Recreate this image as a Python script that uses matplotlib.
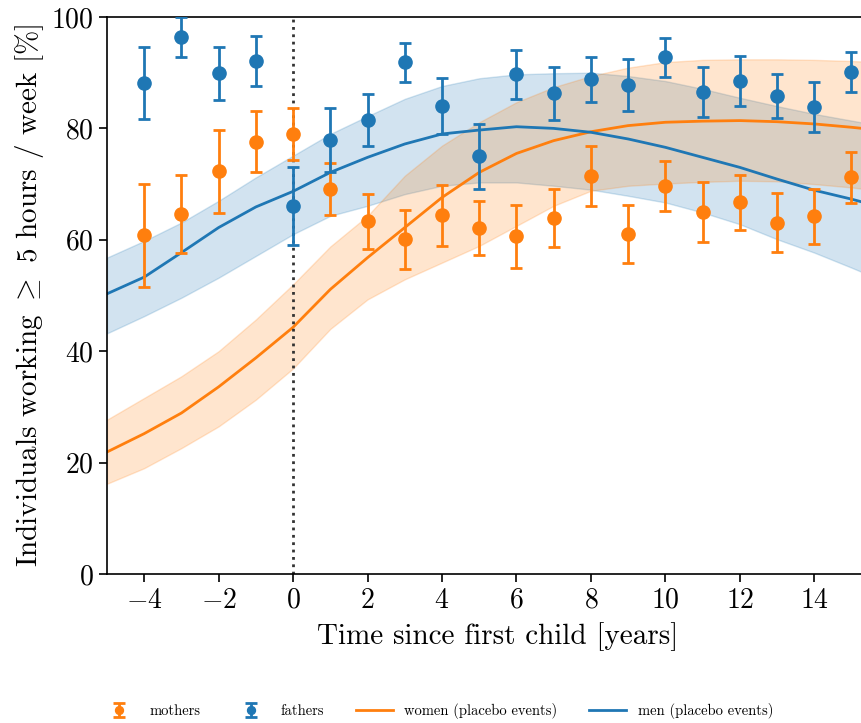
import matplotlib
matplotlib.use('Agg')
import matplotlib.pyplot as plt
import numpy as np

plt.rcParams['font.family'] = 'serif'
plt.rcParams['font.serif'] = ['cmr10']
plt.rcParams['mathtext.fontset'] = 'cm'
plt.rcParams['axes.formatter.use_mathtext'] = True

# event-study points (years relative to first child)
years = [-4, -3, -2, -1, 0, 1, 2, 3, 4, 5, 6, 7, 8, 9, 10, 11, 12, 13, 14, 15]
mothers = [60.8, 64.6, 72.3, 77.6, 79.0, 69.1, 63.3, 60.1, 64.4, 62.1,
           60.6, 63.9, 71.5, 61.0, 69.7, 65.0, 66.7, 63.1, 64.2, 71.2]
mothers_err = [9.2, 7.0, 7.5, 5.5, 4.7, 4.7, 5.0, 5.3, 5.5, 4.9,
               5.6, 5.2, 5.4, 5.2, 4.5, 5.4, 4.9, 5.3, 5.0, 4.6]
fathers = [88.1, 96.4, 89.9, 92.1, 66.0, 77.9, 81.5, 91.9, 84.0, 75.0,
           89.7, 86.3, 88.8, 87.8, 92.8, 86.5, 88.5, 85.8, 83.9, 90.2]
fathers_err = [6.5, 3.6, 4.8, 4.5, 7.0, 5.7, 4.7, 3.5, 5.0, 5.8,
               4.4, 4.8, 4.0, 4.7, 3.5, 4.5, 4.5, 4.0, 4.5, 3.6]

# placebo-event fits with bands
fit_x = [-5, -4, -3, -2, -1, 0, 1, 2, 3, 4, 5, 6, 7, 8, 9, 10, 11, 12, 13, 14, 15, 16]
women = [21.9, 25.2, 28.9, 33.6, 38.8, 44.3, 51.1, 56.8, 62.2, 67.6, 72.1,
         75.5, 77.8, 79.4, 80.5, 81.1, 81.3, 81.4, 81.2, 80.8, 80.2, 79.5]
women_hi = [27.7, 31.6, 35.5, 40.0, 45.7, 52.0, 58.8, 64.3, 71.5, 76.9, 81.1,
            84.7, 87.4, 89.4, 90.9, 91.9, 92.3, 92.4, 92.4, 92.3, 92.1, 91.8]
women_lo = [16.2, 19.0, 22.6, 26.5, 31.3, 36.9, 44.0, 49.3, 52.9, 55.9, 58.9,
            62.5, 66.1, 68.8, 69.7, 70.1, 70.4, 70.6, 70.5, 70.0, 69.4, 68.6]
men = [50.3, 53.3, 57.7, 62.2, 65.9, 68.7, 72.1, 74.8, 77.2, 79.0, 79.7,
       80.3, 80.0, 79.3, 78.1, 76.6, 74.8, 73.0, 70.9, 68.9, 67.3, 65.5]
men_hi = [56.8, 59.8, 63.1, 67.0, 71.2, 75.1, 79.0, 82.2, 85.3, 87.6, 89.0,
          89.7, 89.9, 90.0, 89.4, 88.5, 87.1, 85.5, 84.0, 82.6, 81.4, 80.2]
men_lo = [43.2, 46.3, 49.6, 53.2, 57.1, 61.0, 64.3, 66.1, 68.2, 69.7, 70.3,
          70.3, 69.7, 69.0, 67.9, 66.7, 64.9, 62.8, 60.1, 57.7, 55.0, 52.2]

orange = '#ff7f0e'
blue = '#1f77b4'

fig = plt.figure(figsize=(8.62, 7.23), dpi=100)
ax = fig.add_axes([0.1241, 0.2061, 0.9069, 0.7704])

ax.fill_between(fit_x, men_lo, men_hi, color=blue, alpha=0.2)
ax.fill_between(fit_x, women_lo, women_hi, color=orange, alpha=0.2)
ax.plot(fit_x, women, color=orange, lw=2, label='women (placebo events)')
ax.plot(fit_x, men, color=blue, lw=2, label='men (placebo events)')

ax.axvline(0, color='#333333', ls=':', lw=2, zorder=2.5)

ax.errorbar(years, mothers, yerr=mothers_err, fmt='o', color=orange, ms=9.5,
            elinewidth=2, capsize=4, capthick=2, label='mothers', zorder=3)
ax.errorbar(years, fathers, yerr=fathers_err, fmt='o', color=blue, ms=9.5,
            elinewidth=2, capsize=4, capthick=2, label='fathers', zorder=3)

ax.set_xlim(-5, 16)
ax.set_ylim(0, 100)
ax.set_xticks([-4, -2, 0, 2, 4, 6, 8, 10, 12, 14])
ax.set_yticks([0, 20, 40, 60, 80, 100])
ax.tick_params(labelsize=20, width=1.2, length=6)
for s in ax.spines.values():
    s.set_linewidth(1.2)
ax.set_xlabel('Time since first child [years]', fontsize=21, labelpad=6)
ax.set_ylabel(r'Individuals working $\geq$ 5 hours / week [%]', fontsize=21)

h, l = ax.get_legend_handles_labels()
order = [l.index(n) for n in ['mothers', 'fathers', 'women (placebo events)', 'men (placebo events)']]
fig.legend([h[i] for i in order], [l[i] for i in order], loc='lower center',
           bbox_to_anchor=(0.507, -0.013), ncol=4, frameon=False, fontsize=10.5,
           columnspacing=2.2, handlelength=2.5, markerscale=0.6)

fig.savefig('out.png', dpi=100)
